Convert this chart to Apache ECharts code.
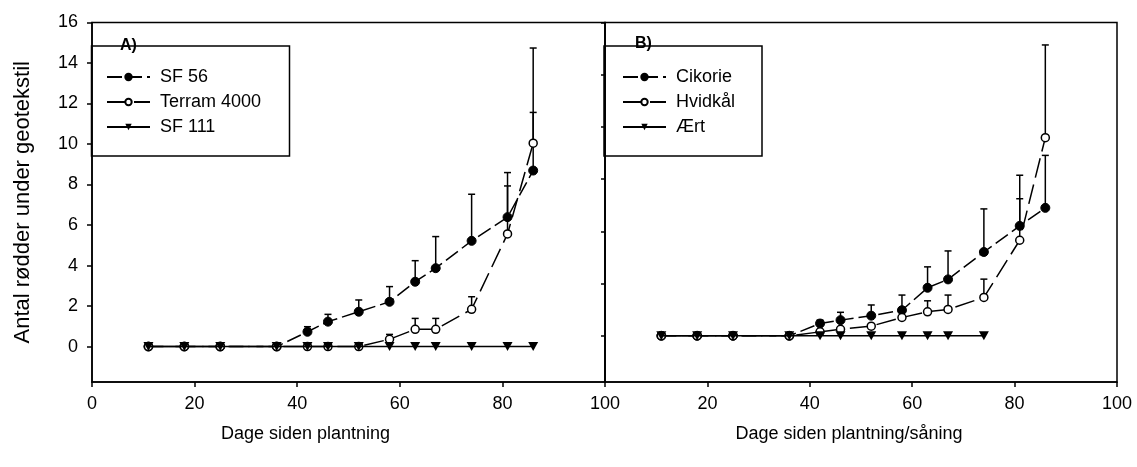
<!DOCTYPE html>
<html>
<head>
<meta charset="utf-8">
<script src="https://cdn.jsdelivr.net/npm/echarts@6/dist/echarts.min.js"></script>
<style>
  html, body { margin: 0; padding: 0; background: #fff; }
  #chart { width: 1137px; height: 467px; }
</style>
</head>
<body>
<div id="chart"></div>
<script>
// Days after planting / sowing
const days = [11, 18, 25, 36, 42, 46, 52, 58, 63, 67, 74, 81, 86];
const daysAert = [11, 18, 25, 36, 42, 46, 52, 58, 63, 67, 74];

// Panel A: geotextile types (roots below geotextile)
const sf56 = [0, 0, 0, 0, 0.73, 1.23, 1.72, 2.21, 3.2, 3.87, 5.22, 6.39, 8.69];
const sf56Err = [null, null, null, null, 0.25, 0.36, 0.58, 0.75, 1.04, 1.56, 2.3, 2.2, 2.87];
const terram4000 = [0, 0, 0, 0, 0, 0, 0, 0.36, 0.85, 0.85, 1.84, 5.56, 10.04];
const terram4000Err = [null, null, null, null, null, null, null, 0.24, 0.54, 0.54, 0.62, 2.37, 4.7];
const sf111 = [0, 0, 0, 0, 0, 0, 0, 0, 0, 0, 0, 0, 0];

// Panel B: crops
const cikorie = [0, 0, 0, 0, 0.47, 0.6, 0.77, 0.98, 1.84, 2.16, 3.21, 4.21, 4.9];
const cikorieErr = [null, null, null, null, 0.13, 0.3, 0.41, 0.58, 0.8, 1.09, 1.65, 1.94, 2.01];
const hvidkaal = [0, 0, 0, 0, 0.15, 0.25, 0.37, 0.7, 0.92, 1.01, 1.47, 3.66, 7.59];
const hvidkaalErr = [null, null, null, null, null, null, null, null, 0.42, 0.55, 0.7, 1.59, 3.55];
const aert = [0, 0, 0, 0, 0, 0, 0, 0, 0, 0, 0];

const xTicks = [0, 20, 40, 60, 80, 100];
const yTicksA = [0, 2, 4, 6, 8, 10, 12, 14, 16];
const yTicksB = [0, 2, 4, 6, 8, 10, 12];

const FONT = 'Liberation Sans, Arial, Helvetica, sans-serif';
const INK = '#000';

function pairs(xs, ys) {
  return xs.map((x, i) => [x, ys[i]]);
}
function errTriples(xs, ys, es) {
  const out = [];
  xs.forEach((x, i) => { if (es[i] != null) out.push([x, ys[i], es[i]]); });
  return out;
}

// Upper standard-error whiskers with a short cap
function errorBars(name, xs, ys, es, axisIdx) {
  return {
    type: 'custom',
    name: name + ' SE',
    xAxisIndex: axisIdx,
    yAxisIndex: axisIdx,
    z: 1,
    silent: true,
    encode: { x: 0, y: 1 },
    data: errTriples(xs, ys, es),
    renderItem: function (params, api) {
      const x = api.value(0), v = api.value(1), e = api.value(2);
      const p0 = api.coord([x, v]);
      const p1 = api.coord([x, v + e]);
      const st = { stroke: INK, lineWidth: 1.5 };
      return {
        type: 'group',
        children: [
          { type: 'line', shape: { x1: p0[0], y1: p0[1], x2: p1[0], y2: p1[1] }, style: st },
          { type: 'line', shape: { x1: p1[0] - 3.5, y1: p1[1], x2: p1[0] + 3.5, y2: p1[1] }, style: st }
        ]
      };
    }
  };
}

const filledMarker = { symbol: 'circle', symbolSize: 9, itemStyle: { color: INK, borderColor: INK, borderWidth: 1 } };
const openMarker = { symbol: 'circle', symbolSize: 8, itemStyle: { color: '#fff', borderColor: INK, borderWidth: 1.5 } };
const triMarker = { symbol: 'triangle', symbolRotate: 180, symbolSize: [10, 9], itemStyle: { color: INK, borderColor: INK, borderWidth: 0 } };

function lineSeries(name, xs, ys, axisIdx, marker, dash, z) {
  return Object.assign({
    type: 'line',
    name: name,
    xAxisIndex: axisIdx,
    yAxisIndex: axisIdx,
    data: pairs(xs, ys),
    showSymbol: true,
    animation: false,
    z: z,
    lineStyle: { color: INK, width: 1.5, type: dash }
  }, marker);
}

function xAxisCfg(gridIdx, name, labelVals, namePad) {
  return {
    type: 'value', gridIndex: gridIdx, min: 0, max: 100, interval: 20,
    name: name, nameLocation: 'middle', nameGap: 43,
    nameTextStyle: { fontFamily: FONT, fontSize: 18, color: INK, padding: namePad },
    axisLine: { show: true, onZero: false, lineStyle: { color: INK, width: 1.5 } },
    axisTick: { show: true, inside: false, length: 5, lineStyle: { color: INK, width: 1.5 } },
    axisLabel: { customValues: labelVals, fontFamily: FONT, fontSize: 18, color: INK, margin: 13 },
    splitLine: { show: false }
  };
}

function legendCfg(names, left) {
  return {
    data: names,
    orient: 'vertical', left: left, top: 68, padding: 0,
    itemWidth: 43, itemHeight: 8, itemGap: 7,
    textStyle: { fontFamily: FONT, fontSize: 18, color: INK, padding: [0, 0, 0, 5] },
    selectedMode: false
  };
}

const option = {
  backgroundColor: '#fff',
  animation: false,
  grid: [
    { left: 92, top: 22.5, width: 513, height: 359.5, show: true, borderColor: INK, borderWidth: 1.5, containLabel: false },
    { left: 605, top: 22.5, width: 512, height: 359.5, show: true, borderColor: INK, borderWidth: 1.5, containLabel: false }
  ],
  xAxis: [
    xAxisCfg(0, 'Dage siden plantning', xTicks, [0, 86, 0, 0]),
    xAxisCfg(1, 'Dage siden plantning/s\u00e5ning', xTicks.slice(1), [0, 24, 0, 0])
  ],
  yAxis: [
    {
      type: 'value', gridIndex: 0, min: -1.75, max: 16,
      name: 'Antal r\u00f8dder under geotekstil', nameLocation: 'middle', nameGap: 58,
      nameTextStyle: { fontFamily: FONT, fontSize: 22, color: INK },
      axisLine: { show: true, onZero: false, lineStyle: { color: INK, width: 1.5 } },
      axisTick: { show: true, inside: false, length: 5, customValues: yTicksA, lineStyle: { color: INK, width: 1.5 } },
      axisLabel: { customValues: yTicksA, fontFamily: FONT, fontSize: 18, color: INK, margin: 14 },
      splitLine: { show: false }
    },
    {
      type: 'value', gridIndex: 1, min: -1.77, max: 12,
      axisLine: { show: true, onZero: false, lineStyle: { color: INK, width: 1.5 } },
      axisTick: { show: true, inside: false, length: 4, customValues: yTicksB, lineStyle: { color: INK, width: 1.5 } },
      axisLabel: { show: false },
      splitLine: { show: false }
    }
  ],
  legend: [
    legendCfg(['SF 56', 'Terram 4000', 'SF 111'], 106),
    legendCfg(['Cikorie', 'Hvidk\u00e5l', '\u00c6rt'], 622)
  ],
  graphic: [
    { type: 'rect', z: 50, shape: { x: 91.5, y: 46, width: 198, height: 110 }, style: { fill: 'none', stroke: INK, lineWidth: 1.5 } },
    { type: 'rect', z: 50, shape: { x: 604, y: 46, width: 158, height: 110 }, style: { fill: 'none', stroke: INK, lineWidth: 1.5 } },
    { type: 'text', z: 51, x: 120, y: 38, style: { text: 'A)', font: 'bold 16px ' + FONT, fill: INK } },
    { type: 'text', z: 51, x: 635, y: 36, style: { text: 'B)', font: 'bold 16px ' + FONT, fill: INK } }
  ],
  series: [
    errorBars('SF 56', days, sf56, sf56Err, 0),
    errorBars('Terram 4000', days, terram4000, terram4000Err, 0),
    lineSeries('SF 56', days, sf56, 0, filledMarker, [15, 5], 3),
    lineSeries('Terram 4000', days, terram4000, 0, openMarker, [20, 7], 4),
    lineSeries('SF 111', days, sf111, 0, triMarker, 'solid', 5),

    errorBars('Cikorie', days, cikorie, cikorieErr, 1),
    errorBars('Hvidk\u00e5l', days, hvidkaal, hvidkaalErr, 1),
    lineSeries('Cikorie', days, cikorie, 1, filledMarker, [15, 5], 3),
    lineSeries('Hvidk\u00e5l', days, hvidkaal, 1, openMarker, [20, 7], 4),
    lineSeries('\u00c6rt', daysAert, aert, 1, triMarker, 'solid', 5)
  ]
};

const chart = echarts.init(document.getElementById('chart'), null, { renderer: 'canvas' });
chart.setOption(option);
</script>
</body>
</html>
